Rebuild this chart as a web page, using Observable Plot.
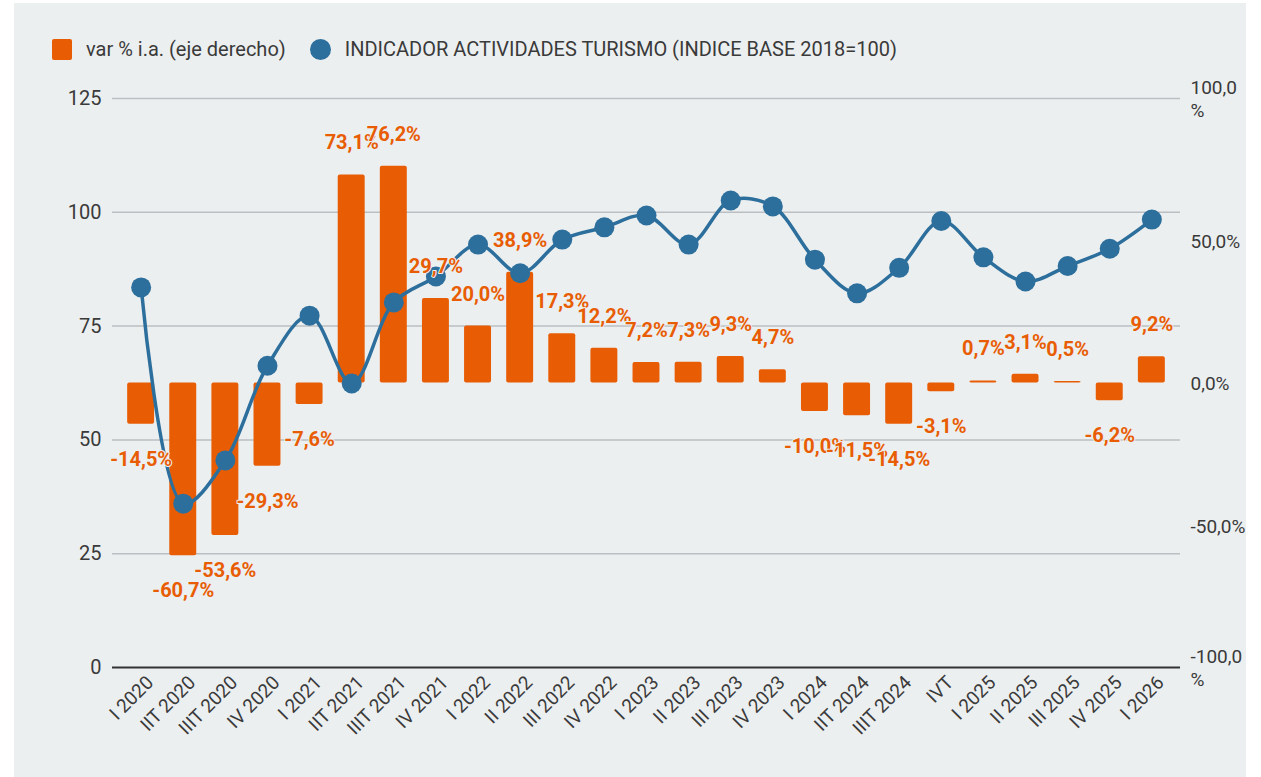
<!DOCTYPE html>
<html>
<head>
<meta charset="utf-8">
<script src="https://cdn.jsdelivr.net/npm/d3@7"></script>
<script src="https://cdn.jsdelivr.net/npm/@observablehq/plot@0.6"></script>
<style>
  html, body { margin: 0; padding: 0; background: #ffffff; font-family: Roboto, "Noto Sans", sans-serif; }
  #wrap { position: relative; width: 1261px; height: 777px; overflow: hidden; }
  #panel { position: absolute; left: 14px; top: 3px; width: 1232px; height: 774px; background: #ECEFF0; }
  #chart { position: absolute; left: 0; top: 0; }
  #legend { position: absolute; left: 52px; top: 37px; display: flex; align-items: center; font-size: 20px; color: #3a3a3a; white-space: nowrap; }
  .sw-bar { width: 20px; height: 21px; background: #E85D04; border-radius: 2px; margin-right: 14px; }
  .sw-dot { width: 21px; height: 21px; background: #2D6F9C; border-radius: 50%; margin-left: 24px; margin-right: 14px; }
</style>
</head>
<body>
<div id="wrap">
  <div id="panel"></div>
  <div id="chart"></div>
  <div id="legend"></div>
</div>
<script>
const categories = ["I 2020","IIT 2020","IIIT 2020","IV 2020","I 2021","IIT 2021","IIIT 2021","IV 2021","I 2022","II 2022","III 2022","IV 2022","I 2023","II 2023","III 2023","IV 2023","I 2024","IIT 2024","IIIT 2024","IVT","I 2025","II 2025","III 2025","IV 2025","I 2026"];
const variacion = [-14.5,-60.7,-53.6,-29.3,-7.6,73.1,76.2,29.7,20.0,38.9,17.3,12.2,7.2,7.3,9.3,4.7,-10.0,-11.5,-14.5,-3.1,0.7,3.1,0.5,-6.2,9.2];
const indicador = [83.5,36.0,45.5,66.3,77.3,62.4,80.2,85.9,92.9,86.6,94.0,96.7,99.3,92.9,102.6,101.3,89.6,82.2,87.8,98.1,90.1,84.8,88.2,92.0,98.4];
const leftTicks = [0,25,50,75,100,125];
const rightTicks = [-100,-50,0,50,100];
const rightTickLabels = ["-100,0\n%","-50,0%","0,0%","50,0%","100,0\n%"];
const seriesNames = ["var % i.a. (eje derecho)", "INDICADOR ACTIVIDADES TURISMO (INDICE BASE 2018=100)"];

const ORANGE = "#E85D04";
const BLUE = "#2D6F9C";
const BG = "#ECEFF0";

// right axis (-100..100 %) mapped onto left axis (0..125)
const toLeft = p => 62.5 + p * 0.625;
const fmt = v => v.toFixed(1).replace(".", ",") + "%";

const data = categories.map((c, i) => ({cat: c, pct: variacion[i], ind: indicador[i]}));

const chart = Plot.plot({
  width: 1261,
  height: 777,
  marginTop: 98,
  marginBottom: 110,
  marginLeft: 112,
  marginRight: 81,
  style: {background: "transparent", fontFamily: "Roboto, 'Noto Sans', sans-serif", color: "#333"},
  x: {domain: categories, padding: 0.36, round: false, label: null},
  y: {domain: [0, 125], label: null},
  marks: [
    Plot.ruleY(leftTicks.filter(d => d > 0), {stroke: "#bcbfc2", strokeWidth: 1.5}),
    Plot.axisY(leftTicks, {anchor: "left", tickSize: 0, tickPadding: 11, fontSize: 20, fill: "#3a3a3a", label: null}),
    Plot.axisY(rightTicks.map(toLeft), {anchor: "right", tickSize: 0, tickPadding: 10, fontSize: 19, lineHeight: 1.2, fill: "#3a3a3a", label: null,
      tickFormat: v => rightTickLabels[rightTicks.map(toLeft).indexOf(v)]}),
    Plot.axisX({tickRotate: -45, tickSize: 0, tickPadding: 12, dx: 9, fontSize: 19, fill: "#3a3a3a", label: null}),
    Plot.barY(data, {x: "cat", y1: toLeft(0), y2: d => toLeft(d.pct), fill: ORANGE, rx: 2}),
    Plot.ruleY([0], {stroke: "#333", strokeWidth: 2}),
    Plot.line(data, {x: "cat", y: "ind", curve: "catmull-rom", stroke: BLUE, strokeWidth: 3.5}),
    Plot.dot(data, {x: "cat", y: "ind", r: 10, fill: BLUE}),
    Plot.text(data.filter(d => d.pct >= 0), {x: "cat", y: d => toLeft(d.pct), text: d => fmt(d.pct), dy: -32,
      fill: ORANGE, fontWeight: "bold", fontSize: 20, stroke: BG, strokeWidth: 2}),
    Plot.text(data.filter(d => d.pct < 0), {x: "cat", y: d => toLeft(d.pct), text: d => fmt(d.pct), dy: 35,
      fill: ORANGE, fontWeight: "bold", fontSize: 20, stroke: BG, strokeWidth: 2})
  ]
});
document.getElementById("chart").appendChild(chart);

const legend = document.getElementById("legend");
legend.innerHTML = `<div class="sw-bar"></div><span>${seriesNames[0]}</span><div class="sw-dot"></div><span>${seriesNames[1]}</span>`;
</script>
</body>
</html>
